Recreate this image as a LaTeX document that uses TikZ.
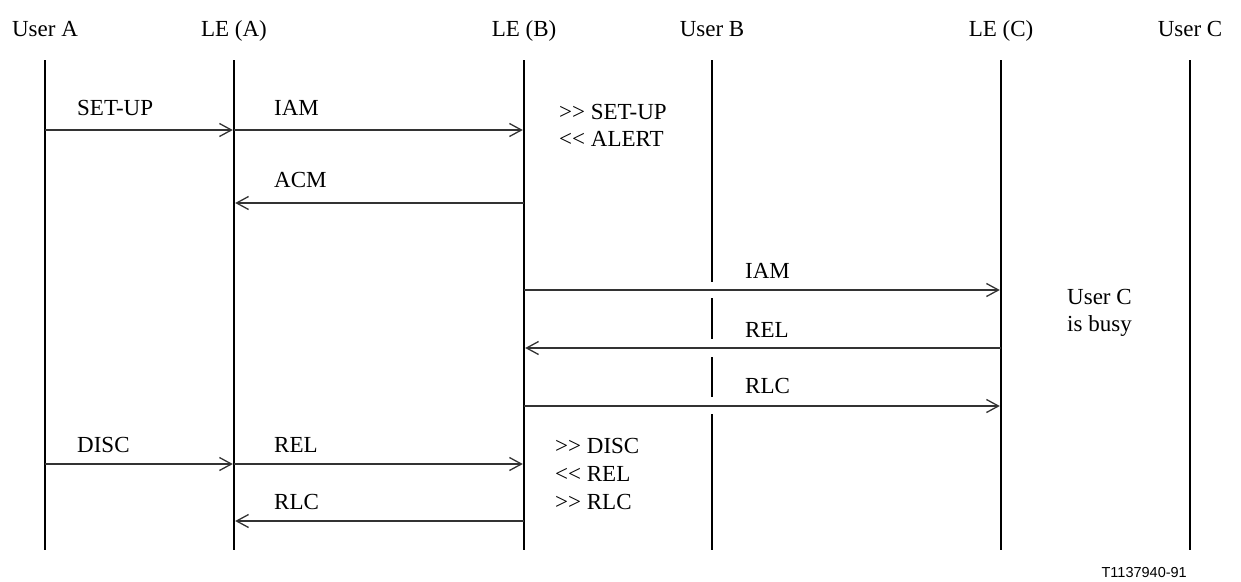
\documentclass[tikz,border=0pt]{standalone}
\usepackage{fontspec}
\setmainfont{Liberation Serif}[Ligatures=TeXOff]
\newfontfamily\lsans{Liberation Sans}
\usetikzlibrary{arrows.meta}
\begin{document}
\begin{tikzpicture}[x=1pt,y=-1pt,
  txt/.style={font=\fontsize{23}{27.5}\selectfont, inner sep=0pt},
  hdr/.style={txt, anchor=base},
  lbl/.style={txt, anchor=base west},
  life/.style={line width=2.6pt, black},
  msg/.style={line width=1.3pt, black!80, shorten >=1.2pt,
    -{Straight Barb[length=12pt,width=13pt]}},
  tag/.style={font=\lsans\fontsize{14.5}{17}\selectfont, anchor=base east, inner sep=0pt}]
\useasboundingbox (0,0) rectangle (1241,581);
% levels
\coordinate (top) at (0,60);
\coordinate (bot) at (0,550);
\coordinate (m1) at (0,130);
\coordinate (m2) at (0,203);
\coordinate (m3) at (0,290);
\coordinate (m4) at (0,348);
\coordinate (m5) at (0,406);
\coordinate (m6) at (0,464);
\coordinate (m7) at (0,521);
\coordinate (b1) at (0,282);
\coordinate (b2) at (0,298);
\coordinate (b3) at (0,339);
\coordinate (b4) at (0,357);
\coordinate (b5) at (0,397);
\coordinate (b6) at (0,414);
% headers
\node[hdr] (UA) at (45,36) {User A};
\node[hdr] (LA) at (234,36) {LE (A)};
\node[hdr] (LB) at (524,36) {LE (B)};
\node[hdr] (UB) at (712,36) {User B};
\node[hdr] (LC) at (1001,36) {LE (C)};
\node[hdr] (UC) at (1190,36) {User C};
% lifelines
\foreach \n in {UA,LA,LB,LC,UC} \draw[life] (\n |- top) -- (\n |- bot);
\draw[life] (UB |- top) -- (UB |- b1) (UB |- b2) -- (UB |- b3)
            (UB |- b4) -- (UB |- b5) (UB |- b6) -- (UB |- bot);
% messages
\draw[msg] (UA |- m1) -- (LA |- m1);
\draw[msg] (LA |- m1) -- (LB |- m1);
\draw[msg] (LB |- m2) -- (LA |- m2);
\draw[msg] (LB |- m3) -- (LC |- m3);
\draw[msg] (LC |- m4) -- (LB |- m4);
\draw[msg] (LB |- m5) -- (LC |- m5);
\draw[msg] (UA |- m6) -- (LA |- m6);
\draw[msg] (LA |- m6) -- (LB |- m6);
\draw[msg] (LB |- m7) -- (LA |- m7);
% message labels
\node[lbl] (t1) at (77,115) {SET-UP};
\node[lbl] (t2) at (274,115) {IAM};
\node[lbl] (t3) at (274,187) {ACM};
\node[lbl] (t4) at (745,278) {IAM};
\node[lbl] (t5) at (745,337) {REL};
\node[lbl] (t6) at (745,393) {RLC};
\node[lbl] (t7) at (77,452) {DISC};
\node[lbl] (t8) at (274,452) {REL};
\node[lbl] (t9) at (274,509) {RLC};
% notes
\node[lbl] (n1) at (559,119) {>> SET-UP};
\node[lbl] (n2) at (559,146) {<< ALERT};
\node[lbl] (n3) at (555,453) {>> DISC};
\node[lbl] (n4) at (555,481) {<< REL};
\node[lbl] (n5) at (555,509) {>> RLC};
\node[lbl] (n6) at (1067,304) {User C};
\node[lbl] (n7) at (1067,331) {is busy};
% figure tag
\node[tag] (fig) at (1187,577) {T1137940-91};
\end{tikzpicture}
\end{document}
